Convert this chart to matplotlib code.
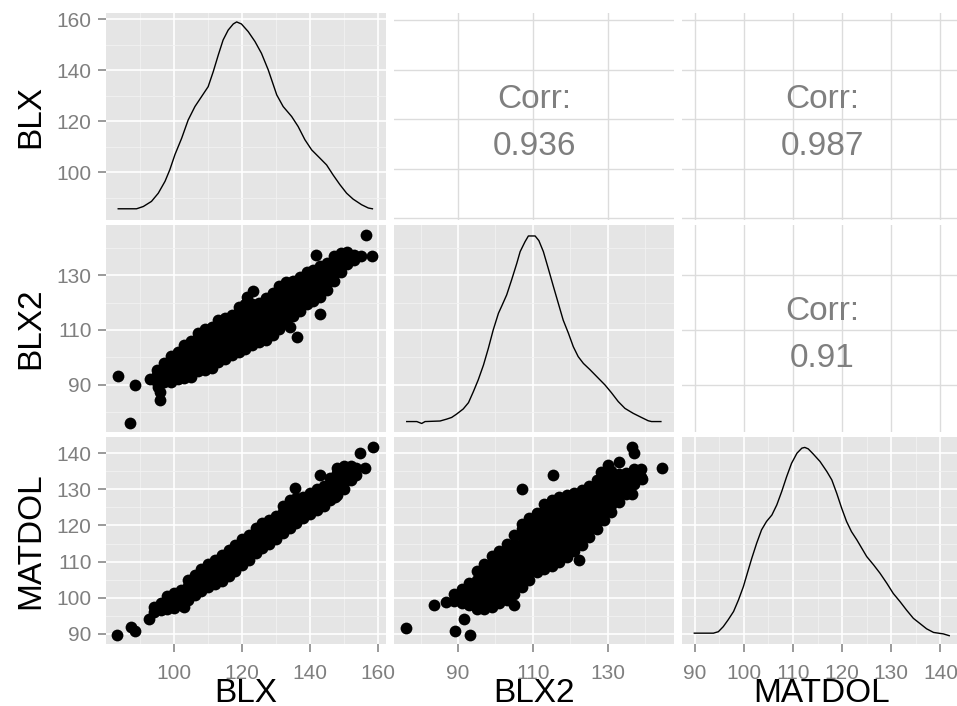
import matplotlib
matplotlib.use('Agg')
import matplotlib.pyplot as plt
import numpy as np

plt.rcParams['font.family'] = ['Liberation Sans', 'DejaVu Sans']

variables = ['BLX', 'BLX2', 'MATDOL']

x_limits = {'BLX': (79.9, 162.4), 'BLX2': (72.9, 147.7), 'MATDOL': (87.4, 144.4)}
y_limits = {'BLX': (81.2, 162.4), 'BLX2': (72.9, 148.3), 'MATDOL': (87.2, 144.4)}
major_breaks = {'BLX': [100, 120, 140, 160], 'BLX2': [90, 110, 130],
                'MATDOL': [90, 100, 110, 120, 130, 140]}
minor_breaks = {'BLX': [90, 110, 130, 150], 'BLX2': [80, 100, 120, 140],
                'MATDOL': [95, 105, 115, 125, 135]}
corr_row1_limits = (79.3, 162.8)
corr_row1_breaks = [80, 100, 120, 140, 160]
corr_labels = {(0, 1): '0.936', (0, 2): '0.987', (1, 2): '0.91'}

# diagonal density curves (scaled onto the variable's own range)
dens_blx_x = [83.5, 88.9, 90.9, 93.3, 95.3, 97.3, 98.7, 100.2, 102.2, 104.1, 106.1, 108.1, 110.0,
              111.5, 113.0, 114.4, 115.9, 117.4, 118.4, 119.8, 121.8, 123.8, 125.7, 127.7, 130.2,
              132.1, 134.6, 136.5, 138.5, 140.5, 142.9, 144.9, 146.8, 148.8, 150.8, 152.7, 155.2,
              157.2, 158.4]
dens_blx_y = [85.6, 85.6, 86.5, 88.5, 91.7, 96.4, 100.9, 106.8, 113.3, 120.4, 125.7, 129.7, 133.5,
              139.4, 146.0, 151.8, 155.7, 158.1, 158.9, 158.1, 155.1, 151.2, 146.6, 140.1, 130.3,
              125.7, 121.8, 117.9, 112.7, 108.7, 105.5, 102.8, 98.9, 95.1, 91.7, 89.4, 87.2,
              85.9, 85.6]
dens_blx2_x = [76.3, 79.0, 80.3, 81.2, 85.2, 87.0, 88.3, 89.6, 91.4, 92.8, 94.1, 95.4, 96.8, 98.1,
               99.4, 100.8, 101.7, 103.0, 104.3, 105.7, 106.6, 107.9, 108.8, 110.6, 111.6, 112.8,
               114.1, 115.5, 116.8, 118.1, 119.5, 120.8, 122.1, 123.5, 125.2, 127.5, 129.3, 131.0,
               132.8, 134.6, 136.8, 139.0, 140.8, 141.7, 144.2]
dens_blx2_y = [76.6, 76.6, 75.9, 76.6, 76.8, 77.5, 78.1, 79.3, 81.2, 83.5, 87.5, 91.8, 97.2, 103.3,
               110.0, 116.1, 118.8, 122.8, 128.2, 134.3, 138.6, 142.2, 144.3, 144.3, 142.6, 138.6,
               132.5, 125.8, 119.7, 113.6, 108.8, 103.9, 100.3, 97.8, 95.6, 92.4, 89.9, 87.1,
               83.9, 81.4, 79.6, 78.1, 76.9, 76.6, 76.6]
dens_matdol_x = [89.9, 93.8, 94.8, 95.8, 96.8, 97.9, 98.9, 99.9, 100.7, 101.6, 102.6, 103.6, 104.6,
                 105.7, 106.7, 107.7, 108.7, 109.7, 110.8, 111.8, 112.4, 113.1, 114.1, 115.5, 116.9,
                 117.9, 118.9, 119.9, 120.9, 121.9, 123.0, 124.0, 125.0, 126.4, 127.7, 129.1, 130.4,
                 131.8, 133.1, 134.5, 135.9, 137.2, 138.6, 140.6, 141.8]
dens_matdol_y = [90.2, 90.2, 90.6, 92.0, 93.9, 96.2, 99.4, 103.1, 106.8, 110.9, 115.1, 118.8, 121.1,
                 122.9, 125.7, 129.4, 133.5, 137.2, 140.0, 141.4, 141.6, 141.2, 139.8, 137.7, 134.9,
                 132.6, 128.9, 124.8, 121.1, 118.3, 116.0, 113.7, 111.4, 109.1, 106.8, 104.0, 101.2,
                 98.9, 96.6, 94.3, 92.8, 91.4, 90.4, 90.0, 89.5]

# scatter points (x, y)
scatter_blx_blx2 = [
    (83.5, 93.2), (87.0, 75.9), (88.4, 90.0), (95.3, 89.3), (95.8, 87.5), (95.9, 84.5),
    (156.5, 144.7), (158.4, 137.0), (141.9, 137.4), (142.9, 115.8), (136.1, 107.6),
    (134.1, 111.2), (121.3, 122.2), (123.3, 124.3),
    (93, 92),
    (95, 91), (95, 93.5), (95, 95.5),
    (97, 91), (97, 93.5), (97, 96), (97, 98),
    (99, 91), (99, 93.5), (99, 96), (99, 98.5), (99, 100.5),
    (101, 92), (101, 94.5), (101, 97), (101, 99.5), (101, 102),
    (103, 92.5), (103, 95), (103, 97.5), (103, 100), (103, 102.5), (103, 104.5),
    (105, 93), (105, 95.5), (105, 98), (105, 100.5), (105, 103), (105, 106),
    (107, 95), (107, 97.5), (107, 100), (107, 102.5), (107, 105), (107, 107.5), (107, 109),
    (109, 95.5), (109, 98), (109, 100.5), (109, 103), (109, 105.5), (109, 108), (109, 110.5),
    (111, 96), (111, 98.5), (111, 101), (111, 103.5), (111, 106), (111, 108.5), (111, 111),
    (113, 98.5), (113, 101), (113, 103.5), (113, 106), (113, 108.5), (113, 111), (113, 113.5),
    (115, 99.5), (115, 102), (115, 104.5), (115, 107), (115, 109.5), (115, 112), (115, 114.5),
    (117, 101), (117, 103.5), (117, 106), (117, 108.5), (117, 111), (117, 113.5), (117, 115.5),
    (119, 102), (119, 104.5), (119, 107), (119, 109.5), (119, 112), (119, 114.5), (119, 117),
    (119, 118.5),
    (121, 103), (121, 105.5), (121, 108), (121, 110.5), (121, 113), (121, 115.5), (121, 118),
    (121, 119.5),
    (123, 104.5), (123, 107), (123, 109.5), (123, 112), (123, 114.5), (123, 117), (123, 119.5),
    (125, 105.5), (125, 108), (125, 110.5), (125, 113), (125, 115.5), (125, 118), (125, 120),
    (127, 106.5), (127, 109), (127, 111.5), (127, 114), (127, 116.5), (127, 119), (127, 121.5),
    (129, 108), (129, 110.5), (129, 113), (129, 115.5), (129, 118), (129, 120.5), (129, 123.5),
    (131, 110.5), (131, 113), (131, 115.5), (131, 118), (131, 120.5), (131, 123), (131, 126),
    (133, 112.5), (133, 115), (133, 117.5), (133, 120), (133, 122.5), (133, 125), (133, 127.5),
    (135, 115), (135, 117.5), (135, 120), (135, 122.5), (135, 125), (135, 128),
    (137, 117), (137, 119.5), (137, 122), (137, 124.5), (137, 127), (137, 129.5),
    (139, 119.5), (139, 122), (139, 124.5), (139, 127), (139, 129.5), (139, 131),
    (141, 120.5), (141, 123), (141, 125.5), (141, 128), (141, 130.5), (141, 132),
    (143, 122), (143, 124.5), (143, 127), (143, 129.5), (143, 132), (143, 133.5),
    (145, 124.5), (145, 127), (145, 129.5), (145, 132), (145, 134.5),
    (147, 128), (147, 130.5), (147, 133), (147, 135.5), (147, 137),
    (149, 131), (149, 133.5), (149, 136), (149, 138),
    (151, 134), (151, 136.5), (151, 138.5),
    (153, 135.5), (153, 137.5),
    (155, 137),
]

scatter_blx_matdol = [
    (83.2, 89.7), (87.2, 91.8), (88.4, 90.9), (92.7, 94.0), (102.9, 97.5),
    (158.6, 141.8), (154.7, 140.0), (156.2, 135.8), (142.9, 134.0), (135.6, 130.3),
    (147.3, 128.0),
    (94, 96), (94, 97.5),
    (96, 96.5), (96, 98.5),
    (98, 96.8), (98, 98.8), (98, 100.4),
    (100, 97.3), (100, 99.3), (100, 101.3),
    (102, 98), (102, 100), (102, 102.2),
    (104, 99.3), (104, 101.3), (104, 103.3), (104, 104.8),
    (106, 100.8), (106, 102.8), (106, 104.8), (106, 106.3),
    (108, 102), (108, 104), (108, 106), (108, 108),
    (110, 103), (110, 105), (110, 107), (110, 109.3),
    (112, 103.8), (112, 105.8), (112, 107.8), (112, 110.5),
    (114, 104.6), (114, 106.6), (114, 108.6), (114, 110.6), (114, 111.8),
    (116, 106), (116, 108), (116, 110), (116, 112), (116, 113.3),
    (118, 107.5), (118, 109.5), (118, 111.5), (118, 113.5), (118, 114.7),
    (120, 109), (120, 111), (120, 113), (120, 115), (120, 116.2),
    (122, 110.4), (122, 112.4), (122, 114.4), (122, 116.4), (122, 117.5),
    (124, 112.3), (124, 114.3), (124, 116.3), (124, 118.3), (124, 119.3),
    (126, 113.9), (126, 115.9), (126, 117.9), (126, 119.9), (126, 120.8),
    (128, 115), (128, 117), (128, 119), (128, 121.5),
    (130, 116.3), (130, 118.3), (130, 120.3), (130, 122.5),
    (132, 117.8), (132, 119.8), (132, 121.8), (132, 123.8), (132, 125.5),
    (134, 119.3), (134, 121.3), (134, 123.3), (134, 125.3), (134, 127),
    (136, 120.7), (136, 122.7), (136, 124.7), (136, 126.7), (136, 127.5),
    (138, 122), (138, 124), (138, 126), (138, 128),
    (140, 123.2), (140, 125.2), (140, 127.2), (140, 129),
    (142, 124.3), (142, 126.3), (142, 128.3), (142, 130),
    (144, 125.5), (144, 127.5), (144, 129.5), (144, 131),
    (146, 127), (146, 129), (146, 131), (146, 133),
    (148, 128.5), (148, 130.5), (148, 132.5), (148, 134.5), (148, 136),
    (150, 130), (150, 132), (150, 134), (150, 136.5),
    (152, 132.5), (152, 134.5), (152, 136.5),
    (153.5, 134), (153.5, 136),
]

scatter_blx2_matdol = [
    (76.1, 91.5), (83.7, 98.0), (86.7, 98.9), (89.3, 90.9), (91.6, 94.0), (93.3, 89.7),
    (107.0, 130.0), (115.4, 134.0), (136.5, 141.8), (137.0, 140.0), (133.1, 137.7),
    (144.4, 135.8), (139.1, 132.8), (136.5, 128.7), (130.1, 136.7), (128.1, 134.9),
    (105.0, 98.0), (122.2, 110.4),
    (89, 99), (89, 101),
    (91, 98.5), (91, 100.5), (91, 102.3),
    (93, 98), (93, 100), (93, 102), (93, 104),
    (95, 97), (95, 99), (95, 101), (95, 103), (95, 105), (95, 107.3),
    (97, 97), (97, 99), (97, 101), (97, 103), (97, 105), (97, 107), (97, 109.3),
    (99, 97.5), (99, 99.5), (99, 101.5), (99, 103.5), (99, 105.5), (99, 107.5), (99, 109.5),
    (99, 111.5),
    (101, 98.5), (101, 100.5), (101, 102.5), (101, 104.5), (101, 106.5), (101, 108.5),
    (101, 110.5), (101, 112.8),
    (103, 99.5), (103, 101.5), (103, 103.5), (103, 105.5), (103, 107.5), (103, 109.5),
    (103, 111.5), (103, 113.5), (103, 115),
    (105, 101), (105, 103), (105, 105), (105, 107), (105, 109), (105, 111), (105, 113),
    (105, 115), (105, 117.5),
    (107, 103), (107, 105), (107, 107), (107, 109), (107, 111), (107, 113), (107, 115),
    (107, 117), (107, 119), (107, 120.5),
    (109, 105), (109, 107), (109, 109), (109, 111), (109, 113), (109, 115), (109, 117),
    (109, 119), (109, 121), (109, 122),
    (111, 107), (111, 109), (111, 111), (111, 113), (111, 115), (111, 117), (111, 119),
    (111, 121), (111, 123.5),
    (113, 108), (113, 110), (113, 112), (113, 114), (113, 116), (113, 118), (113, 120),
    (113, 122), (113, 124), (113, 126),
    (115, 108.8), (115, 110.8), (115, 112.8), (115, 114.8), (115, 116.8), (115, 118.8),
    (115, 120.8), (115, 122.8), (115, 124.8), (115, 127),
    (117, 110), (117, 112), (117, 114), (117, 116), (117, 118), (117, 120), (117, 122),
    (117, 124), (117, 126), (117, 128),
    (119, 111.2), (119, 113.2), (119, 115.2), (119, 117.2), (119, 119.2), (119, 121.2),
    (119, 123.2), (119, 125.2), (119, 127.2), (119, 128.3),
    (121, 112.8), (121, 114.8), (121, 116.8), (121, 118.8), (121, 120.8), (121, 122.8),
    (121, 124.8), (121, 126.8), (121, 129),
    (123, 114.5), (123, 116.5), (123, 118.5), (123, 120.5), (123, 122.5), (123, 124.5),
    (123, 126.5), (123, 128.5), (123, 129.8),
    (125, 116.8), (125, 118.8), (125, 120.8), (125, 122.8), (125, 124.8), (125, 126.8),
    (125, 128.8), (125, 130.8),
    (127, 119), (127, 121), (127, 123), (127, 125), (127, 127), (127, 129), (127, 131),
    (127, 132.5),
    (129, 121.5), (129, 123.5), (129, 125.5), (129, 127.5), (129, 129.5), (129, 131.5),
    (129, 133.5),
    (131, 123.8), (131, 125.8), (131, 127.8), (131, 129.8), (131, 131.8), (131, 133.8),
    (131, 135),
    (133, 126.5), (133, 128.5), (133, 130.5), (133, 132.5), (133, 134.3),
    (135, 128.8), (135, 130.8), (135, 132.8), (135, 134.5),
    (137, 131.5), (137, 133.5), (137, 135.5),
    (139, 133.5), (139, 135.5),
]

densities = {0: (dens_blx_x, dens_blx_y), 1: (dens_blx2_x, dens_blx2_y),
             2: (dens_matdol_x, dens_matdol_y)}
scatters = {(1, 0): scatter_blx_blx2, (2, 0): scatter_blx_matdol, (2, 1): scatter_blx2_matdol}

W, H = 957, 706
fig = plt.figure(figsize=(W / 100, H / 100), dpi=100)
col_left = [106, 394, 682]
col_w = 280
row_top = [13, 225, 437.3]
row_bot = [220, 431.7, 644]

TICK_GREY = '#7F7F7F'

for i in range(3):
    for j in range(3):
        ax = fig.add_axes([col_left[j] / W, 1 - row_bot[i] / H, col_w / W,
                           (row_bot[i] - row_top[i]) / H])
        xv, yv = variables[j], variables[i]
        ax.set_xlim(*x_limits[xv])
        for s in ax.spines.values():
            s.set_visible(False)
        ax.set_axisbelow(True)
        ax.set_xticks(major_breaks[xv])
        if i < j:
            ax.set_facecolor('white')
            if i == 0:
                ax.set_ylim(*corr_row1_limits)
                ax.set_yticks(corr_row1_breaks)
            else:
                ax.set_ylim(*y_limits[yv])
                ax.set_yticks(major_breaks[yv])
            ax.grid(which='major', color='#DCDCDC', linewidth=1.0)
            ax.text(0.5, 0.54, 'Corr:', transform=ax.transAxes, ha='center', va='baseline',
                    fontsize=24, color=TICK_GREY)
            ax.text(0.5, 0.313, corr_labels[(i, j)], transform=ax.transAxes, ha='center',
                    va='baseline', fontsize=24, color=TICK_GREY)
        else:
            ax.set_facecolor('#E5E5E5')
            ax.set_ylim(*y_limits[yv])
            ax.set_yticks(major_breaks[yv])
            ax.set_xticks(minor_breaks[xv], minor=True)
            ax.set_yticks(minor_breaks[yv], minor=True)
            ax.grid(which='major', color='white', linewidth=1.2)
            ax.grid(which='minor', color='#F2F2F2', linewidth=0.6)
            if i == j:
                dx, dy = densities[i]
                ax.plot(dx, dy, color='black', linewidth=1.0)
            else:
                pts = np.array(scatters[(i, j)])
                ax.scatter(pts[:, 0], pts[:, 1], s=72, c='black', linewidths=0)
        ax.tick_params(which='minor', length=0)
        ax.tick_params(which='major', length=0, labelbottom=False, labelleft=False)
        if i == 2:
            ax.tick_params(axis='x', which='major', length=5.8, width=1.1, color=TICK_GREY,
                           labelcolor=TICK_GREY, labelsize=15, pad=8.5, labelbottom=True)
        if j == 0:
            ax.tick_params(axis='y', which='major', length=5.8, width=1.1, color=TICK_GREY,
                           labelcolor=TICK_GREY, labelsize=15, pad=4.5, labelleft=True)

for j, v in enumerate(variables):
    fig.text((col_left[j] + col_w / 2) / W, 4.5 / H, v, ha='center', va='baseline', fontsize=24)
for i, v in enumerate(variables):
    fig.text(31 / W, 1 - (row_top[i] + row_bot[i]) / 2 / H, v, rotation=90, ha='center',
             va='center', fontsize=24)

fig.savefig('out.png', dpi=100)
